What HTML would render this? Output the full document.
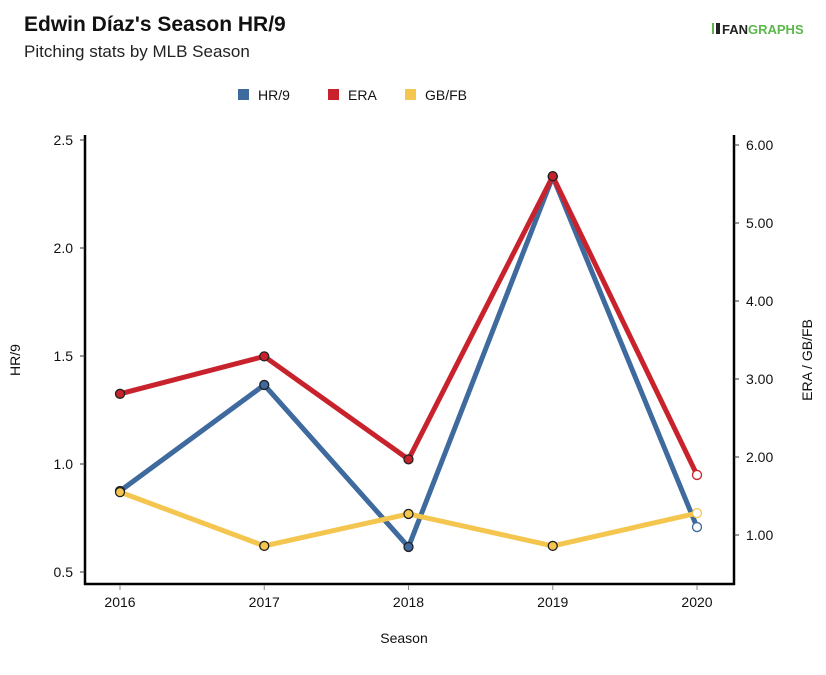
<!DOCTYPE html>
<html><head><meta charset="utf-8"><style>
body{margin:0;background:#fff;font-family:"Liberation Sans",sans-serif;}
</style></head><body>
<svg width="826" height="670" xmlns="http://www.w3.org/2000/svg" font-family="Liberation Sans, sans-serif">
<text x="24" y="31" font-size="21" font-weight="bold" fill="#111">Edwin Díaz's Season HR/9</text>
<text x="24" y="57" font-size="17" fill="#222">Pitching stats by MLB Season</text>
<g>
<rect x="712" y="23" width="2" height="11" fill="#5cb84a"/><rect x="716" y="23" width="4" height="11" fill="#222"/>
<text x="722" y="34" font-size="13" font-weight="bold" fill="#222">FAN<tspan fill="#5cb84a">GRAPHS</tspan></text>
</g>
<g id="legend"></g>
<g id="axes"></g>
<g id="series"></g>
<text x="404" y="643" font-size="14" text-anchor="middle" fill="#111">Season</text>
<text transform="translate(20,360) rotate(-90)" font-size="14" text-anchor="middle" fill="#111">HR/9</text>
<text transform="translate(812,360) rotate(-90)" font-size="14" text-anchor="middle" fill="#111">ERA / GB/FB</text>
</svg>
<script>
const years=[2016,2017,2018,2019,2020];
const hr9=[0.875,1.366,0.616,2.33,0.708];
const era=[2.81,3.29,1.97,5.60,1.77];
const gbfb=[1.55,0.86,1.27,0.86,1.28];
const leftTicks=["0.5","1.0","1.5","2.0","2.5"];
const rightTicks=["1.00","2.00","3.00","4.00","5.00","6.00"];
const NS="http://www.w3.org/2000/svg";
const x=i=>120+i*144.25;
const yL=v=>572-(v-0.5)*216;
const yR=v=>535-(v-1)*78;
function mk(tag,at,parent){const e=document.createElementNS(NS,tag);for(const k in at)e.setAttribute(k,at[k]);parent.appendChild(e);return e;}
const ax=document.getElementById('axes');
let l=mk('line',{x1:85,y1:135,x2:85,y2:585,stroke:'#000','stroke-width':2.5},ax);


l=mk('line',{x1:734,y1:135,x2:734,y2:585,stroke:'#000','stroke-width':2.5},ax);


l=mk('line',{x1:84,y1:584,x2:735,y2:584,stroke:'#000','stroke-width':2.5},ax);


leftTicks.forEach(t=>{const y=yL(parseFloat(t));
mk('line',{x1:80,y1:y,x2:85,y2:y,stroke:'#333'},ax);
const e=mk('text',{x:73,y:y+5,'font-size':14,'text-anchor':'end',fill:'#111'},ax);e.textContent=t;

});
rightTicks.forEach(t=>{const y=yR(parseFloat(t));
mk('line',{x1:734,y1:y,x2:739,y2:y,stroke:'#333'},ax);
const e=mk('text',{x:746,y:y+5,'font-size':14,fill:'#111'},ax);e.textContent=t;

});
years.forEach((yr,i)=>{mk('line',{x1:x(i),y1:585,x2:x(i),y2:590,stroke:'#888'},ax);
const e=mk('text',{x:x(i),y:607,'font-size':14,'text-anchor':'middle',fill:'#111'},ax);e.textContent=yr;

});
const sg=document.getElementById('series');
const defs=[['gb-fb',gbfb,yR,'#f4c64f','GB/FB'],['hr9',hr9,yL,'#3e6a9e','HR/9'],['era',era,yR,'#c8232c','ERA']];
[defs[1],defs[2],defs[0]].forEach(([n,arr,sc,c])=>{
const p=mk('polyline',{points:arr.map((v,i)=>x(i)+','+sc(v)).join(' '),fill:'none',stroke:c,'stroke-width':5,'stroke-linejoin':'round'},sg);


arr.forEach((v,i)=>{const last=i===arr.length-1;
const d=mk('circle',{cx:x(i),cy:sc(v),r:4.5,fill:last?'#fff':c,stroke:last?c:'#222','stroke-width':1.3},sg);

});});
const lg=document.getElementById('legend');
[['hr9','HR/9','#3e6a9e',238],['era','ERA','#c8232c',328],['gb-fb','GB/FB','#f4c64f',405]].forEach(([n,t,c,lx])=>{
const g=mk('g',{},lg);


mk('rect',{x:lx,y:89,width:11,height:11,fill:c},g);
const e=mk('text',{x:lx+20,y:100,'font-size':14,fill:'#111'},g);e.textContent=t;});
</script>
</body></html>
